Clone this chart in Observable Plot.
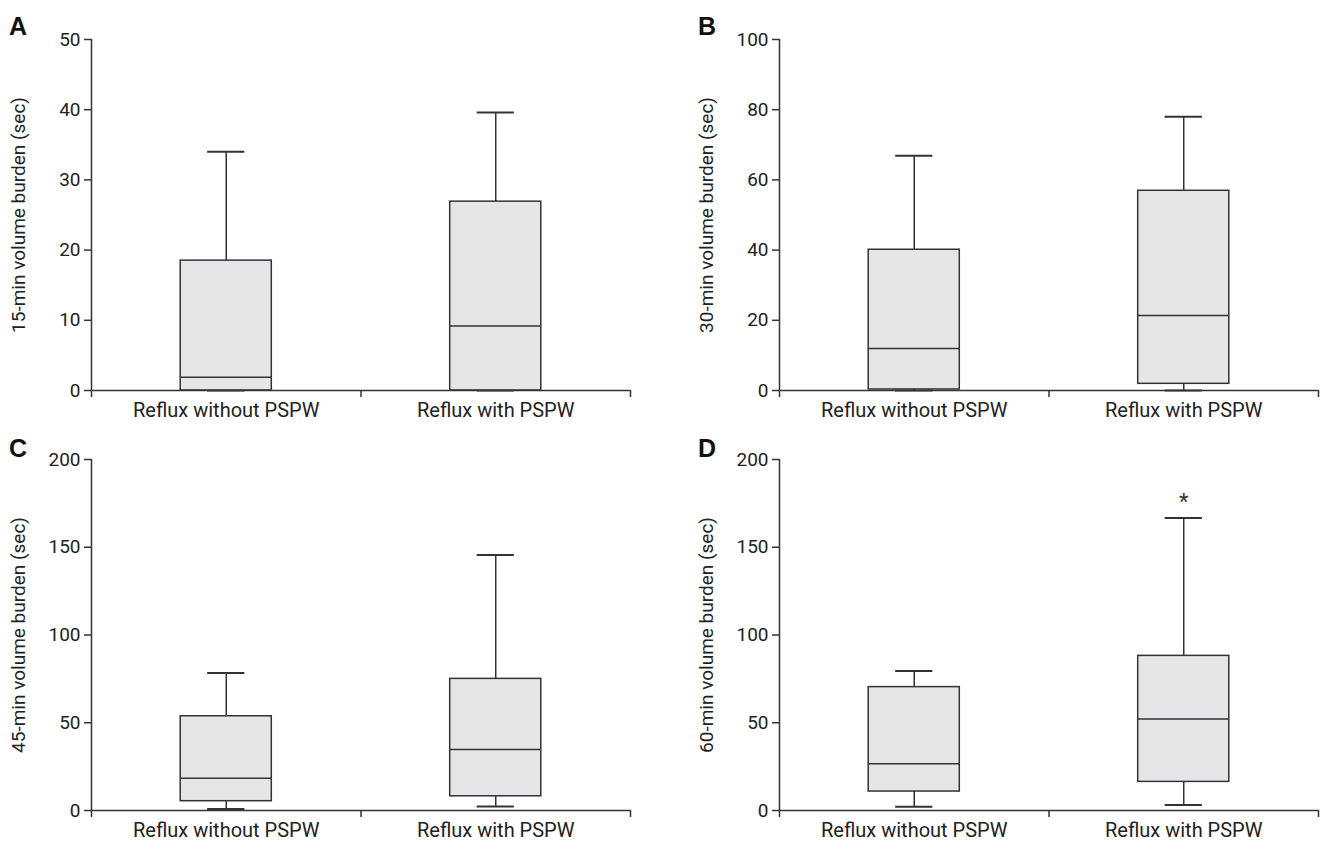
<!DOCTYPE html>
<html>
<head>
<meta charset="utf-8">
<script src="https://cdn.jsdelivr.net/npm/d3@7"></script>
<script src="https://cdn.jsdelivr.net/npm/@observablehq/plot@0.6"></script>
<style>
  body { margin: 0; background: #fff; }
  #wrap { position: relative; width: 1322px; height: 846px; font-family: Roboto, "Liberation Sans", sans-serif; color: #222; }
  .panel { position: absolute; font-family: Roboto, "Liberation Sans", sans-serif; }
  .panel g[aria-label="y-axis tick label"] text { font-size: 19px; fill: #222; }
  .panel g[aria-label="x-axis tick label"] text { font-size: 20px; fill: #222; }
  .panel g[aria-label="y-axis label"] text { font-size: 19px; fill: #222; }
  .letter { position: absolute; font: bold 25px "Liberation Sans", Arial, sans-serif; color: #111; line-height: 1; }
</style>
</head>
<body>
<div id="wrap"></div>
<script>
// ---- data ----
const categories = ["Reflux without PSPW", "Reflux with PSPW"];
const panelLetters = ["A", "B", "C", "D"];
const yLabels = [
  "15-min volume burden (sec)",
  "30-min volume burden (sec)",
  "45-min volume burden (sec)",
  "60-min volume burden (sec)"
];
const yMaxes = [50, 100, 200, 200];
const yTicks = [
  [0, 10, 20, 30, 40, 50],
  [0, 20, 40, 60, 80, 100],
  [0, 50, 100, 150, 200],
  [0, 50, 100, 150, 200]
];
// per panel: [without, with]
const mins    = [[0, 0],     [0, 0],      [0.9, 2.3],   [2.1, 3.2]];
const q1s     = [[0, 0],     [0.3, 1.9],  [5.3, 8.1],   [10.8, 16.3]];
const medians = [[1.9, 9.2], [12.0, 21.4],[18.4, 34.8], [26.6, 52.2]];
const q3s     = [[18.5, 26.9],[40.1, 56.9],[53.7, 75.0], [70.3, 88.1]];
const maxs    = [[34, 39.6], [66.9, 78.0],[78.4, 145.6],[79.5, 166.7]];
const significance = [["", ""], ["", ""], ["", ""], ["", "*"]];

// ---- layout ----
const positions = [
  {left: 0, top: 0}, {left: 688, top: 0},
  {left: 0, top: 420}, {left: 688, top: 420}
];
const letterPos = [
  {left: 9, top: 14}, {left: 698, top: 14},
  {left: 9, top: 436}, {left: 698, top: 436}
];
const halfBox = 0.169, halfCap = 0.069;
const ink = "#333";

const wrap = document.getElementById("wrap");

panelLetters.forEach((letter, p) => {
  const rows = categories.map((c, i) => ({
    cat: c, xc: i + 0.5,
    min: mins[p][i], q1: q1s[p][i], med: medians[p][i], q3: q3s[p][i], max: maxs[p][i],
    sig: significance[p][i]
  }));
  const chart = Plot.plot({
    width: 636,
    height: p < 2 ? 430 : 426,
    marginLeft: 91,
    marginRight: 6,
    marginTop: 39,
    marginBottom: p < 2 ? 40 : 36,
    style: {fontFamily: "Roboto, 'Liberation Sans', sans-serif", fontSize: "17px", color: "#222", overflow: "visible"},
    x: {domain: [0, 2], axis: null},
    y: {domain: [0, yMaxes[p]], axis: null},
    marks: [
      // whiskers
      Plot.ruleX(rows, {x: "xc", y1: "q3", y2: "max", stroke: ink, strokeWidth: 1.5}),
      Plot.ruleX(rows, {x: "xc", y1: "min", y2: "q1", stroke: ink, strokeWidth: 1.5}),
      Plot.ruleY(rows, {y: "max", x1: d => d.xc - halfCap, x2: d => d.xc + halfCap, stroke: ink, strokeWidth: 2}),
      Plot.ruleY(rows, {y: "min", x1: d => d.xc - halfCap, x2: d => d.xc + halfCap, stroke: ink, strokeWidth: 2}),
      // boxes
      Plot.rectY(rows, {x1: d => d.xc - halfBox, x2: d => d.xc + halfBox, y1: "q1", y2: "q3",
        fill: "#e5e6e8", stroke: ink, strokeWidth: 1.5}),
      Plot.ruleY(rows, {y: "med", x1: d => d.xc - halfBox, x2: d => d.xc + halfBox, stroke: ink, strokeWidth: 1.5}),
      // significance
      Plot.text(rows.filter(d => d.sig), {x: "xc", y: "max", text: "sig", dy: -16, fontSize: 22, fill: "#333"}),
      // axes
      Plot.ruleX([0], {y1: 0, y2: yMaxes[p], stroke: ink, strokeWidth: 1.5}),
      Plot.ruleY([0], {stroke: ink, strokeWidth: 1.5}),
      Plot.axisY({ticks: yTicks[p], tickSize: 7, tickPadding: 4, stroke: ink, strokeWidth: 1.5,
        label: yLabels[p], labelAnchor: "center", labelArrow: "none", labelOffset: 80}),
      Plot.axisX({ticks: [0, 1, 2], tickSize: 7, tickFormat: () => "", stroke: ink, strokeWidth: 1.5, label: null}),
      Plot.axisX({ticks: [0.5, 1.5], tickSize: 0, tickPadding: 12, tickFormat: v => categories[Math.round(v - 0.5)],
        label: null})
    ]
  });
  chart.classList.add("panel");
  chart.style.left = positions[p].left + "px";
  chart.style.top = positions[p].top + "px";
  chart.style.position = "absolute";
  wrap.appendChild(chart);

  const l = document.createElement("div");
  l.className = "letter";
  l.textContent = letter;
  l.style.left = letterPos[p].left + "px";
  l.style.top = letterPos[p].top + "px";
  wrap.appendChild(l);
});
</script>
</body>
</html>
